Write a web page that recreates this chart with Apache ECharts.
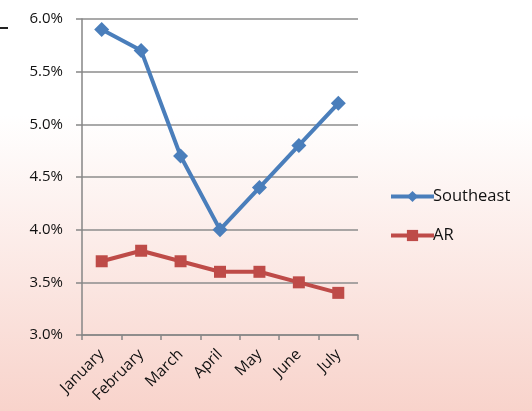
<!DOCTYPE html>
<html>
<head>
<meta charset="utf-8">
<style>
  html, body { margin: 0; padding: 0; }
  #chart { width: 532px; height: 411px; }
</style>
<script src="https://cdn.jsdelivr.net/npm/echarts@6/dist/echarts.min.js"></script>
</head>
<body>
<div id="chart"></div>
<script>
// data
const months = ['January', 'February', 'March', 'April', 'May', 'June', 'July'];
const southeast = [5.9, 5.7, 4.7, 4.0, 4.4, 4.8, 5.2];
const ar = [3.7, 3.8, 3.7, 3.6, 3.6, 3.5, 3.4];

const chart = echarts.init(document.getElementById('chart'));
const font = '"Open Sans", Lato, sans-serif';

chart.setOption({
  animation: false,
  backgroundColor: {
    type: 'linear', x: 0, y: 0, x2: 0, y2: 1,
    colorStops: [
      { offset: 0, color: '#ffffff' },
      { offset: 0.28, color: '#ffffff' },
      { offset: 1, color: '#f8d3cb' }
    ]
  },
  graphic: [
    { type: 'line', shape: { x1: 0, y1: 28, x2: 8, y2: 28 }, style: { stroke: '#222', lineWidth: 2 } }
  ],
  grid: { left: 82, right: 174, top: 19, bottom: 76 },
  legend: {
    orient: 'vertical',
    left: 389,
    top: 188,
    padding: 0,
    itemWidth: 43,
    itemHeight: 14,
    itemGap: 22,
    lineStyle: { width: 4 },
    textStyle: { fontFamily: font, fontSize: 16.5, color: '#111', padding: [0, 0, 0, -6] },
    data: ['Southeast', 'AR']
  },
  xAxis: {
    type: 'category',
    data: months,
    boundaryGap: true,
    axisLine: { lineStyle: { color: '#868686', width: 1.5 } },
    axisTick: { show: true, length: 5, lineStyle: { color: '#868686', width: 1.5 } },
    axisLabel: { rotate: 45, fontFamily: font, fontSize: 15.5, color: '#111', margin: 17, interval: 0 }
  },
  yAxis: {
    type: 'value',
    min: 3.0,
    max: 6.0,
    interval: 0.5,
    axisLine: { show: true, lineStyle: { color: '#868686', width: 1.5 } },
    axisTick: { show: true, length: 6, lineStyle: { color: '#868686', width: 1.5 } },
    splitLine: { lineStyle: { color: '#8c8c8c', width: 1.5 } },
    axisLabel: {
      fontFamily: font, fontSize: 15, color: '#111', margin: 19,
      formatter: v => v.toFixed(1) + '%'
    }
  },
  series: [
    {
      name: 'Southeast',
      type: 'line',
      data: southeast,
      symbol: 'diamond',
      symbolSize: 15,
      lineStyle: { color: '#4a7ebb', width: 4 },
      itemStyle: { color: '#4a7ebb' }
    },
    {
      name: 'AR',
      type: 'line',
      data: ar,
      symbol: 'rect',
      symbolSize: 12,
      lineStyle: { color: '#be4b48', width: 4 },
      itemStyle: { color: '#be4b48' }
    }
  ]
});
</script>
</body>
</html>
